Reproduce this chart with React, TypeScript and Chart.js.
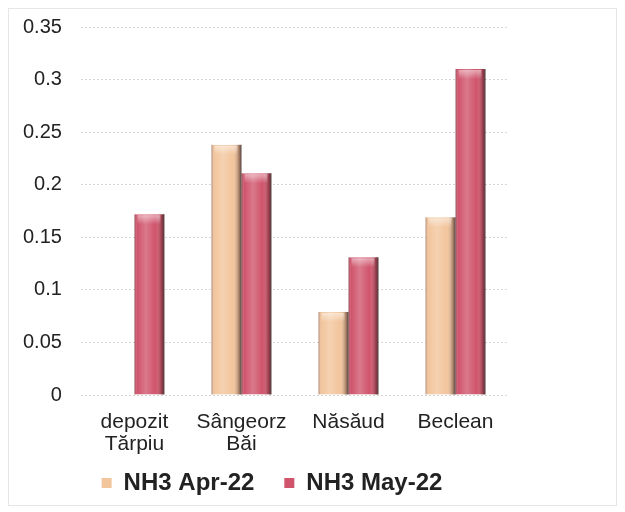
import React, { useEffect, useRef } from "react";
import { Chart, registerables } from "chart.js";

Chart.register(...registerables);

const categories: string[][] = [["depozit", "Tărpiu"], ["Sângeorz", "Băi"], ["Năsăud"], ["Beclean"]];
const seriesNames = ["NH3 Apr-22", "NH3 May-22"];
const aprValues: (number | null)[] = [null, 0.238, 0.079, 0.169];
const mayValues: (number | null)[] = [0.172, 0.211, 0.131, 0.31];
const aprColor = "#f2c59c";
const mayColor = "#d0546c";

const FONT = "Liberation Sans, Arial, sans-serif";

const shadePlugin = {
  id: "shade",
  afterLayout(chart: any) {
    if (chart.legend) {
      chart.legend.left += 9;
      chart.legend.right += 9;
    }
  },
  afterDatasetsDraw(chart: any) {
    const ctx = chart.ctx;
    chart.data.datasets.forEach((_d: any, i: number) => {
      const meta = chart.getDatasetMeta(i);
      meta.data.forEach((el: any) => {
        const { x, y, base, width } = el.getProps(["x", "y", "base", "width"], true);
        if (y == null || isNaN(y)) return;
        const l = x - width / 2;
        const r = x + width / 2;
        const g = ctx.createLinearGradient(l, 0, r, 0);
        g.addColorStop(0, "rgba(80,40,40,0.45)");
        g.addColorStop(0.1, "rgba(255,255,255,0.0)");
        g.addColorStop(0.38, "rgba(255,255,255,0.22)");
        g.addColorStop(0.7, "rgba(255,255,255,0.0)");
        g.addColorStop(0.9, "rgba(60,30,30,0.35)");
        g.addColorStop(1, "rgba(50,30,30,0.75)");
        ctx.save();
        ctx.fillStyle = g;
        ctx.fillRect(l, y, width, base - y);
        const cg = ctx.createLinearGradient(0, y, 0, y + 10);
        cg.addColorStop(0, "rgba(255,255,255,0.55)");
        cg.addColorStop(1, "rgba(255,255,255,0)");
        ctx.fillStyle = cg;
        ctx.fillRect(l + 3, y + 1, width - 7, Math.min(10, base - y));
        ctx.restore();
      });
    });
  },
};

export default function App() {
  const ref = useRef<HTMLCanvasElement>(null);
  useEffect(() => {
    const chart = new Chart(ref.current!, {
      type: "bar",
      data: {
        labels: categories,
        datasets: [
          {
            label: seriesNames[0],
            data: aprValues,
            backgroundColor: aprColor,
            borderColor: "#9c7f6c",
            borderWidth: { left: 0, right: 1, top: 0, bottom: 0 } as any,
            categoryPercentage: 0.56,
            barPercentage: 1,
          },
          {
            label: seriesNames[1],
            data: mayValues,
            backgroundColor: mayColor,
            borderColor: "#6e3e44",
            borderWidth: { left: 0, right: 1, top: 0, bottom: 0 } as any,
            categoryPercentage: 0.56,
            barPercentage: 1,
          },
        ],
      },
      options: {
        animation: false,
        responsive: false,
        maintainAspectRatio: false,
        layout: { padding: { left: 8, right: 44, top: 0, bottom: 0 } },
        plugins: {
          tooltip: { enabled: false },
          legend: {
            position: "bottom",
            labels: {
              boxWidth: 10,
              boxHeight: 10,
              padding: 10,
              color: "#222",
              font: { family: FONT, size: 24, weight: "bold" },
              generateLabels: (c: any) => {
                const items = Chart.defaults.plugins.legend.labels.generateLabels(c);
                items.forEach((it: any, idx: number) => {
                  it.lineWidth = 0;
                  if (idx === 0) it.text = it.text + "   ";
                });
                return items;
              },
            },
          },
        },
        scales: {
          x: {
            afterFit: (s: any) => {
              s.height = 66;
            },
            grid: { display: true, drawOnChartArea: false, drawTicks: true, tickLength: 12, color: "transparent", tickColor: "transparent" },
            border: { display: false },
            ticks: {
              color: "#222",
              padding: 4,
              maxRotation: 0,
              font: { family: FONT, size: 21, lineHeight: 1.05 },
            },
          },
          y: {
            min: 0,
            max: 0.35,
            grid: { color: "#d6d6d6", drawTicks: true, tickLength: 13, tickColor: "transparent" },
            border: { display: false, dash: [2, 2] },
            ticks: {
              stepSize: 0.05,
              padding: 6,
              color: "#222",
              font: { family: FONT, size: 20 },
              callback: (v: any) => String(Math.round(Number(v) * 100) / 100),
            },
          },
        },
      },
      plugins: [shadePlugin],
    });
    return () => chart.destroy();
  }, []);
  return (
    <div style={{ width: 609, height: 498, boxSizing: "border-box", border: "1px solid #e6e6e6" }}>
      <canvas ref={ref} width={544} height={496} style={{ display: "block" }} />
    </div>
  );
}
